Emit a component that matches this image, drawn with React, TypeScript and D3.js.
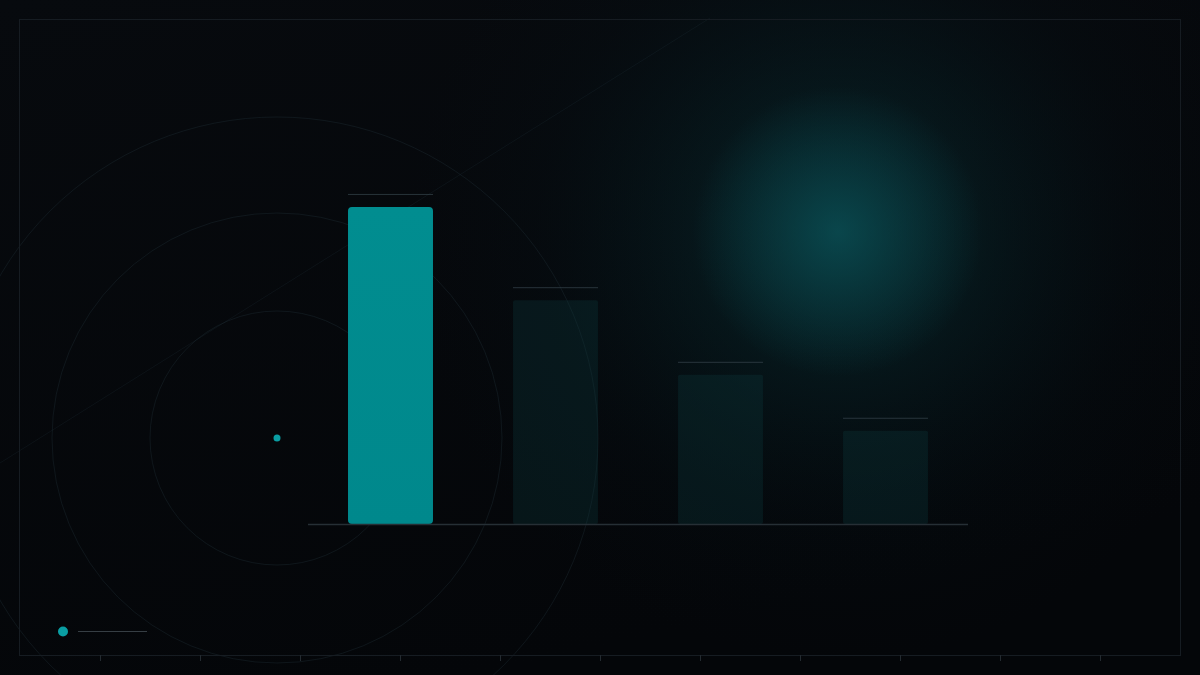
import React from "react";
import * as d3 from "d3";

const categories = ["A", "B", "C", "D"];
const values = [85, 60, 40, 25];
const yDomain = [0, 100];
const tickPositions = [100, 200, 300, 400, 500, 600, 700, 800, 900, 1000, 1100];
const ringRadii = [127, 225, 321];

const W = 1200;
const H = 675;

export default function App() {
  const x = d3.scaleBand<string>().domain(categories).range([308, 968]).paddingInner(0.485).paddingOuter(0.2425);
  const y = d3.scaleLinear().domain(yDomain).range([524, 151]);
  const bw = x.bandwidth();
  const cx = 277;
  const cy = 438;
  const gridX = d3.range(0, W, 40);
  const gridY = d3.range(0, H, 40);
  const diag = d3.line()([[0, 463], [710, 18]]);

  return (
    <svg width={W} height={H} style={{ position: "fixed", top: 0, left: 0, display: "block" }}>
      <defs>
        <linearGradient id="bg" x1="0" y1="0" x2="0.4" y2="1">
          <stop offset="0" stopColor="#070a0e" />
          <stop offset="1" stopColor="#040609" />
        </linearGradient>
        <radialGradient id="glowWide" cx="838" cy="232" r="430" gradientUnits="userSpaceOnUse">
          <stop offset="0" stopColor="#0a4a50" stopOpacity="0.55" />
          <stop offset="0.35" stopColor="#08343a" stopOpacity="0.3" />
          <stop offset="0.7" stopColor="#061e26" stopOpacity="0.1" />
          <stop offset="1" stopColor="#05121a" stopOpacity="0" />
        </radialGradient>
        <radialGradient id="glowCore" cx="838" cy="232" r="145" gradientUnits="userSpaceOnUse">
          <stop offset="0" stopColor="#0a5157" stopOpacity="0.7" />
          <stop offset="0.55" stopColor="#094a50" stopOpacity="0.35" />
          <stop offset="1" stopColor="#094a50" stopOpacity="0" />
        </radialGradient>
        <linearGradient id="barMain" x1="0" y1="0" x2="0" y2="1">
          <stop offset="0" stopColor="#018d90" />
          <stop offset="1" stopColor="#00888c" />
        </linearGradient>
      </defs>
      <rect width={W} height={H} fill="url(#bg)" />
      <rect width={W} height={H} fill="url(#glowWide)" />
      <rect width={W} height={H} fill="url(#glowCore)" />

      {gridX.map((gx) => (
        <line key={"gx" + gx} x1={gx} x2={gx} y1={0} y2={H} stroke="#ffffff" strokeOpacity={0.01} />
      ))}
      {gridY.map((gy) => (
        <line key={"gy" + gy} x1={0} x2={W} y1={gy} y2={gy} stroke="#ffffff" strokeOpacity={0.008} />
      ))}

      <path d={diag || ""} stroke="#2a3a44" strokeOpacity={0.2} fill="none" />

      {ringRadii.map((r) => (
        <circle key={r} cx={cx} cy={cy} r={r} fill="none" stroke="#1f2e34" strokeOpacity={0.4} />
      ))}
      <circle cx={cx} cy={cy} r={3.5} fill="#0a9ea3" />

      <rect x={19.5} y={19.5} width={1161} height={636} fill="none" stroke="#161c22" />
      {tickPositions.map((t) => (
        <line key={t} x1={t + 0.5} x2={t + 0.5} y1={655} y2={661} stroke="#232a30" />
      ))}

      {values.map((v, i) => {
        const bx = x(categories[i]) as number;
        const top = y(v);
        const h = y(0) - top;
        return (
          <g key={categories[i]}>
            <rect
              x={bx}
              y={top}
              width={bw}
              height={h}
              rx={i === 0 ? 4 : 2}
              fill={i === 0 ? "url(#barMain)" : "#0e3a3e"}
              fillOpacity={i === 0 ? 1 : 0.3}
            />
            <line x1={bx} x2={bx + bw} y1={top - 12.5} y2={top - 12.5} stroke="#34424a" strokeOpacity={0.75} />
          </g>
        );
      })}

      <line x1={308} x2={968} y1={y(0) + 0.5} y2={y(0) + 0.5} stroke="#262f35" strokeWidth={1.5} />

      <circle cx={63} cy={631.5} r={5} fill="#0a9ea3" />
      <line x1={78} x2={147} y1={631.5} y2={631.5} stroke="#363e44" />
    </svg>
  );
}
